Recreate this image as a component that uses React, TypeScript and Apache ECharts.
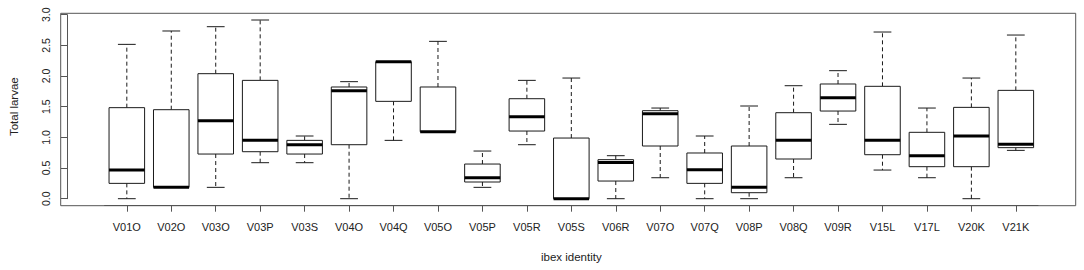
import React, { useEffect, useRef } from "react";
import * as echarts from "echarts";

const categories = [
  "V01O", "V02O", "V03O", "V03P", "V03S", "V04O", "V04Q", "V05O", "V05P", "V05R", "V05S",
  "V06R", "V07O", "V07Q", "V08P", "V08Q", "V09R", "V15L", "V17L", "V20K", "V21K",
];
const lowerWhisker = [0, 0.185, 0.185, 0.587, 0.587, 0, 0.951, 1.092, 0.185, 0.88, 0, 0, 0.342, 0, 0, 0.342, 1.212, 0.467, 0.342, 0, 0.788];
const q1 = [0.25, 0.185, 0.728, 0.766, 0.728, 0.88, 1.587, 1.092, 0.272, 1.103, 0, 0.288, 0.859, 0.25, 0.098, 0.647, 1.429, 0.717, 0.522, 0.522, 0.832];
const median = [0.467, 0.185, 1.272, 0.951, 0.88, 1.761, 2.234, 1.092, 0.342, 1.337, 0, 0.592, 1.386, 0.473, 0.185, 0.951, 1.647, 0.951, 0.701, 1.022, 0.886];
const q3 = [1.484, 1.451, 2.038, 1.929, 0.951, 1.821, 2.234, 1.821, 0.565, 1.63, 0.989, 0.636, 1.435, 0.745, 0.859, 1.402, 1.87, 1.832, 1.082, 1.489, 1.766];
const upperWhisker = [2.516, 2.734, 2.804, 2.913, 1.022, 1.908, 2.234, 2.565, 0.777, 1.929, 1.967, 0.701, 1.478, 1.022, 1.511, 1.842, 2.087, 2.717, 1.478, 1.967, 2.668];
const yTicks = [0, 0.5, 1, 1.5, 2, 2.5, 3];
const yMin = 0;
const yMax = 3;
const yStep = 0.5;

const FONT = "'Liberation Sans', Arial, sans-serif";

export default function App() {
  const ref = useRef<HTMLDivElement>(null);
  useEffect(() => {
    document.body.style.margin = "0";
    if (!ref.current) return;
    const chart = echarts.init(ref.current, null, { renderer: "svg" });
    const data = categories.map((_, i) => [i, lowerWhisker[i], q1[i], median[i], q3[i], upperWhisker[i]]);
    const lineColor = "#1a1a1a";
    const frameColor = "#555";
    const yAxisOffset = 37.6;
    chart.setOption({
      animation: false,
      backgroundColor: "#ffffff",
      grid: [
        { left: 98.3, top: 14.67, width: 939.75, height: 184.03, containLabel: false },
        {
          left: 60.7,
          top: 13.3,
          width: 1015,
          height: 192.4,
          show: true,
          borderColor: frameColor,
          borderWidth: 1,
          backgroundColor: "transparent",
          containLabel: false,
        },
      ],
      xAxis: [
        {
          type: "category",
          gridIndex: 0,
          data: categories,
          boundaryGap: true,
          offset: 7,
          axisLine: { show: true, onZero: false, lineStyle: { color: frameColor } },
          splitLine: { show: false },
          axisTick: { show: true, alignWithLabel: true, length: 6, lineStyle: { color: frameColor } },
          axisLabel: {
            interval: 0,
            fontFamily: FONT,
            fontSize: 11,
            color: "#222",
            margin: 16,
          },
          name: "ibex identity",
          nameLocation: "middle",
          nameGap: 45,
          nameTextStyle: { fontFamily: FONT, fontSize: 11.5, color: "#222" },
        },
        { type: "value", gridIndex: 1, show: false, min: 0, max: 1 },
      ],
      yAxis: [
        {
          type: "value",
          gridIndex: 0,
          min: yMin,
          max: yMax,
          interval: yStep,
          offset: yAxisOffset,
          axisLine: { show: true, onZero: false, lineStyle: { color: frameColor } },
          splitLine: { show: false },
          axisTick: { show: true, length: 6, lineStyle: { color: frameColor } },
          axisLabel: { show: false },
          name: "Total larvae",
          nameLocation: "middle",
          nameGap: 47,
          nameTextStyle: { fontFamily: FONT, fontSize: 11.5, color: "#222" },
        },
        { type: "value", gridIndex: 1, show: false, min: 0, max: 1 },
      ],
      series: [
        {
          type: "custom",
          xAxisIndex: 0,
          yAxisIndex: 0,
          data,
          encode: { x: 0, y: [1, 2, 3, 4, 5] },
          renderItem: (params: any, api: any) => {
            const i = api.value(0);
            const lo = api.value(1);
            const a = api.value(2);
            const m = api.value(3);
            const b = api.value(4);
            const hi = api.value(5);
            const bw = api.size([1, 0])[0];
            const cx = api.coord([i, 0])[0];
            const half = bw * 0.4;
            const capHalf = bw * 0.2;
            const yLo = api.coord([i, lo])[1];
            const yA = api.coord([i, a])[1];
            const yM = api.coord([i, m])[1];
            const yB = api.coord([i, b])[1];
            const yHi = api.coord([i, hi])[1];
            const solid = { stroke: lineColor, lineWidth: 1, fill: "none" };
            const dashed = { stroke: lineColor, lineWidth: 1, lineDash: [4, 3], fill: "none" };
            const children: any[] = [];
            if (yHi < yB) {
              children.push({ type: "line", shape: { x1: cx, y1: yB, x2: cx, y2: yHi }, style: dashed });
            }
            if (yLo > yA) {
              children.push({ type: "line", shape: { x1: cx, y1: yA, x2: cx, y2: yLo }, style: dashed });
            }
            children.push({ type: "line", shape: { x1: cx - capHalf, y1: yHi, x2: cx + capHalf, y2: yHi }, style: solid });
            children.push({ type: "line", shape: { x1: cx - capHalf, y1: yLo, x2: cx + capHalf, y2: yLo }, style: solid });
            children.push({
              type: "rect",
              shape: { x: cx - half, y: yB, width: 2 * half, height: Math.max(yA - yB, 0.01) },
              style: { stroke: lineColor, lineWidth: 1, fill: "#fff" },
            });
            children.push({
              type: "line",
              shape: { x1: cx - half, y1: yM, x2: cx + half, y2: yM },
              style: { stroke: "#000", lineWidth: 3 },
            });
            return { type: "group", children };
          },
        },
        {
          type: "custom",
          xAxisIndex: 0,
          yAxisIndex: 0,
          silent: true,
          clip: false,
          data: yTicks.map((v) => [0, v]),
          encode: { x: 0, y: 1 },
          renderItem: (params: any, api: any) => {
            const v = api.value(1);
            const y = api.coord([0, v])[1];
            const x = params.coordSys.x - yAxisOffset - 21.4;
            return {
              type: "text",
              x,
              y,
              rotation: Math.PI / 2,
              style: {
                text: Number(v).toFixed(1),
                align: "center",
                verticalAlign: "middle",
                fontFamily: FONT,
                fontSize: 10.5,
                fill: "#222",
              },
            };
          },
        },
      ],
    });
    return () => chart.dispose();
  }, []);
  return <div ref={ref} style={{ width: 1084, height: 270 }} />;
}
